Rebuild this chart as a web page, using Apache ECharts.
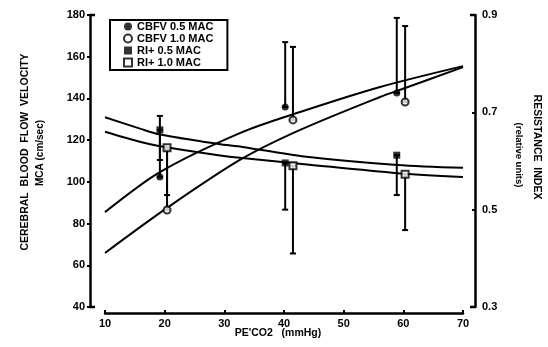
<!DOCTYPE html>
<html><head><meta charset="utf-8">
<script src="https://cdn.jsdelivr.net/npm/echarts@6/dist/echarts.min.js"></script>
<style>html,body{margin:0;padding:0;background:#fff}#c{width:548px;height:347px}</style>
</head><body><div id="c"></div>
<script>
// axis ticks
const xMin = 10, xMax = 70, xStep = 10;
const cbfvMin = 40, cbfvMax = 180, cbfvStep = 20;
const riMin = 0.3, riMax = 0.9, riStep = 0.2;

// fitted curves
const cbfv05X = [10, 19.2, 32.6, 42.7, 56.1, 70];
const cbfv05Y = [85.5, 104.7, 123.4, 133.5, 145.5, 155.5];
const cbfv10X = [10, 20.4, 32.6, 42.7, 56.1, 60.3, 70];
const cbfv10Y = [65.9, 87.5, 110.5, 124.9, 140.7, 145, 155];
const riCurveX = [10, 16, 19, 29, 33, 43, 59, 70];
const ri05Y = [0.690, 0.666, 0.655, 0.635, 0.629, 0.610, 0.592, 0.586];
const ri10Y = [0.660, 0.639, 0.631, 0.612, 0.606, 0.594, 0.575, 0.567];

// measured points (mean with one-sided SD)
const pt05X = [19.2, 40.2, 58.9];
const pt10X = [20.4, 41.5, 60.3];
const cbfv05Mean = [102.3, 135.9, 142.6];
const cbfv05Hi = [131.6, 167.0, 178.6];
const cbfv10Mean = [86.5, 129.7, 138.3];
const cbfv10Hi = [115.3, 164.7, 174.7];
const ri05Mean = [0.664, 0.596, 0.612];
const ri05Lo = [0.602, 0.500, 0.530];
const ri10Mean = [0.627, 0.590, 0.573];
const ri10Lo = [0.530, 0.410, 0.458];

const names = ['CBFV 0.5 MAC', 'CBFV 1.0 MAC', 'RI+ 0.5 MAC', 'RI+ 1.0 MAC'];

const zip = (a, b) => a.map((v, i) => [v, b[i]]);
const zip3 = (a, b, c) => a.map((v, i) => [v, b[i], c[i]]);

const FONT = '"Liberation Sans", Arial, sans-serif';

function errRender(params, api) {
  const x = api.value(0), lo = api.value(1), hi = api.value(2);
  const p1 = api.coord([x, lo]);
  const p2 = api.coord([x, hi]);
  const st = { stroke: '#000', lineWidth: 2 };
  return {
    type: 'group',
    children: [
      { type: 'line', shape: { x1: p1[0], y1: p1[1], x2: p2[0], y2: p2[1] }, style: st },
      { type: 'line', shape: { x1: p1[0] - 3, y1: p1[1], x2: p1[0] + 3, y2: p1[1] }, style: st },
      { type: 'line', shape: { x1: p2[0] - 3, y1: p2[1], x2: p2[0] + 3, y2: p2[1] }, style: st }
    ]
  };
}

const lineStyleCurve = { color: '#000', width: 2 };

const chart = echarts.init(document.getElementById('c'), null, { renderer: 'canvas' });
chart.setOption({
  animation: false,
  backgroundColor: '#fff',
  grid: { left: 105, right: 85, top: 15, bottom: 40 },
  legend: {
    data: names,
    orient: 'vertical',
    left: 110, top: 20,
    padding: [1, 14, 2, 13],
    itemGap: 1,
    itemWidth: 8, itemHeight: 8,
    borderColor: '#000', borderWidth: 2,
    textStyle: { fontFamily: FONT, fontWeight: 'bold', fontSize: 11, color: '#000' }
  },
  xAxis: {
    type: 'value', min: xMin, max: xMax, interval: xStep,
    offset: 6,
    axisLine: { lineStyle: { color: '#000', width: 2.5 } },
    axisTick: { inside: true, length: 3, lineStyle: { color: '#000', width: 2 } },
    axisLabel: { fontFamily: FONT, fontWeight: 'bold', fontSize: 11, color: '#000', margin: 5 },
    splitLine: { show: false }
  },
  yAxis: [
    {
      type: 'value', min: cbfvMin, max: cbfvMax, interval: cbfvStep,
      position: 'left', offset: 15,
      axisLine: { show: true, lineStyle: { color: '#000', width: 2.5 } },
      axisTick: { show: true, length: 3, lineStyle: { color: '#000', width: 2 } },
      axisLabel: { fontFamily: FONT, fontWeight: 'bold', fontSize: 11, color: '#000', margin: 5 },
      splitLine: { show: false }
    },
    {
      type: 'value', min: riMin, max: riMax, interval: riStep,
      position: 'right', offset: 12,
      axisLine: { show: true, lineStyle: { color: '#000', width: 2.5 } },
      axisTick: { show: true, inside: true, length: 3, lineStyle: { color: '#000', width: 2 } },
      axisLabel: { fontFamily: FONT, fontWeight: 'bold', fontSize: 11, color: '#000', margin: 7,
        formatter: v => v.toFixed(1) },
      splitLine: { show: false }
    }
  ],
  graphic: [
    { id: 't1', type: 'text', x: 25, y: 152, rotation: Math.PI / 2,
      style: { text: 'CEREBRAL  BLOOD  FLOW  VELOCITY', font: 'bold 10.5px ' + FONT, fill: '#000', textAlign: 'center', textVerticalAlign: 'middle' } },
    { id: 't2', type: 'text', x: 40, y: 153, rotation: Math.PI / 2,
      style: { text: 'MCA (cm/sec)', font: 'bold 10px ' + FONT, fill: '#000', textAlign: 'center', textVerticalAlign: 'middle' } },
    { id: 't3', type: 'text', x: 537, y: 147, rotation: -Math.PI / 2,
      style: { text: 'RESISTANCE  INDEX', font: 'bold 10.5px ' + FONT, fill: '#000', textAlign: 'center', textVerticalAlign: 'middle' } },
    { id: 't4', type: 'text', x: 519, y: 155, rotation: -Math.PI / 2,
      style: { text: '(relative units)', font: 'bold 9.5px ' + FONT, fill: '#000', textAlign: 'center', textVerticalAlign: 'middle' } },
    { id: 't5', type: 'text', x: 278, y: 333,
      style: { text: "PE'CO2   (mmHg)", font: 'bold 10.5px ' + FONT, fill: '#000', textAlign: 'center', textVerticalAlign: 'middle' } }
  ],
  series: [
    { type: 'line', smooth: 0.3, showSymbol: false, data: zip(cbfv05X, cbfv05Y), lineStyle: lineStyleCurve, yAxisIndex: 0, silent: true },
    { type: 'line', smooth: 0.3, showSymbol: false, data: zip(cbfv10X, cbfv10Y), lineStyle: lineStyleCurve, yAxisIndex: 0, silent: true },
    { type: 'line', smooth: 0.3, showSymbol: false, data: zip(riCurveX, ri05Y), lineStyle: lineStyleCurve, yAxisIndex: 1, silent: true },
    { type: 'line', smooth: 0.3, showSymbol: false, data: zip(riCurveX, ri10Y), lineStyle: lineStyleCurve, yAxisIndex: 1, silent: true },
    { type: 'custom', renderItem: errRender, yAxisIndex: 0, data: zip3(pt05X, cbfv05Mean, cbfv05Hi), z: 3 },
    { type: 'custom', renderItem: errRender, yAxisIndex: 0, data: zip3(pt10X, cbfv10Mean, cbfv10Hi), z: 3 },
    { type: 'custom', renderItem: errRender, yAxisIndex: 1, data: zip3(pt05X, ri05Lo, ri05Mean), z: 3 },
    { type: 'custom', renderItem: errRender, yAxisIndex: 1, data: zip3(pt10X, ri10Lo, ri10Mean), z: 3 },
    { name: names[0], type: 'scatter', yAxisIndex: 0, symbol: 'circle', symbolSize: 7,
      itemStyle: { color: '#000' }, data: zip(pt05X, cbfv05Mean), z: 5 },
    { name: names[1], type: 'scatter', yAxisIndex: 0, symbol: 'circle', symbolSize: 7,
      itemStyle: { color: '#fff', borderColor: '#000', borderWidth: 2 }, data: zip(pt10X, cbfv10Mean), z: 5 },
    { name: names[2], type: 'scatter', yAxisIndex: 1, symbol: 'rect', symbolSize: 7,
      itemStyle: { color: '#000' }, data: zip(pt05X, ri05Mean), z: 5 },
    { name: names[3], type: 'scatter', yAxisIndex: 1, symbol: 'rect', symbolSize: 7,
      itemStyle: { color: '#fff', borderColor: '#000', borderWidth: 2 }, data: zip(pt10X, ri10Mean), z: 5 }
  ]
});

// small bracket hooks at the axis ends, positioned through the axes' own scales
(function addHooks() {
  const topL = chart.convertToPixel({ yAxisIndex: 0 }, cbfvMax);
  const botL = chart.convertToPixel({ yAxisIndex: 0 }, cbfvMin);
  const leftX = chart.convertToPixel({ xAxisIndex: 0 }, xMin) - 15;
  const rightX = chart.convertToPixel({ xAxisIndex: 0 }, xMax) + 12;
  const st = { stroke: '#000', lineWidth: 2.5 };
  const els = [
    { id: 'h1', type: 'line', shape: { x1: leftX, y1: topL, x2: leftX + 5, y2: topL }, style: st },
    { id: 'h2', type: 'line', shape: { x1: leftX, y1: botL, x2: leftX + 5, y2: botL }, style: st },
    { id: 'h3', type: 'line', shape: { x1: rightX - 5, y1: topL, x2: rightX, y2: topL }, style: st },
    { id: 'h4', type: 'line', shape: { x1: rightX - 5, y1: botL, x2: rightX, y2: botL }, style: st }
  ];
  chart.setOption({ graphic: els.map(e => Object.assign({ silent: true }, e)) });
})();
</script>
</body></html>
